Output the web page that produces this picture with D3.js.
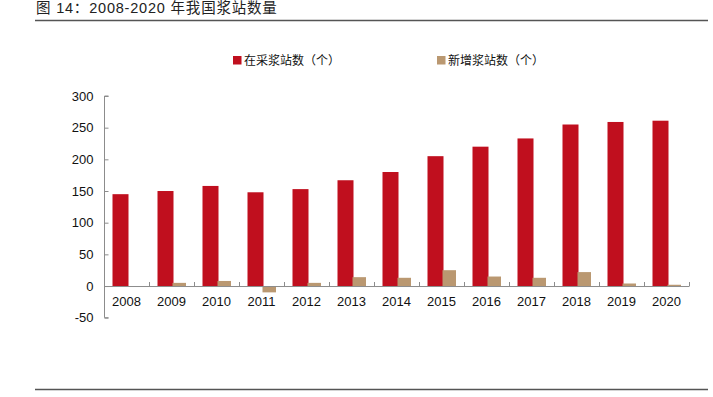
<!DOCTYPE html>
<html><head><meta charset="utf-8">
<script src="https://cdn.jsdelivr.net/npm/d3@7"></script>
<style>
html,body{margin:0;padding:0;background:#fff;}
svg{display:block;}
</style></head>
<body>
<script>
const years = ["2008","2009","2010","2011","2012","2013","2014","2015","2016","2017","2018","2019","2020"];
const stations = [145,150,158,148,153,167,180,205,220,233,255,259,261];
const newStations = [null,5,8,-10,5,14,13,25,15,13,22,4,2];
const yTicks = [-50,0,50,100,150,200,250,300];
const seriesNames = ["在采浆站数（个）","新增浆站数（个）"];
const titleText = "图 14：2008-2020 年我国浆站数量";

const W=713,H=397;
const svg=d3.select("body").append("svg").attr("width",W).attr("height",H);
const red="#C00F1E", tan="#BA9871", axisCol="#8c8c8c";
const cjk="'Liberation Sans','Noto Sans CJK SC',sans-serif";

svg.append("text").attr("x",36).attr("y",13).attr("font-family",cjk).attr("font-size",14.5).attr("letter-spacing",0.8).attr("fill","#222").text(titleText);
svg.append("line").attr("x1",35).attr("x2",708).attr("y1",20.5).attr("y2",20.5).attr("stroke","#555").attr("stroke-width",1.5);
svg.append("line").attr("x1",35).attr("x2",708).attr("y1",389.5).attr("y2",389.5).attr("stroke","#555").attr("stroke-width",1.5);

const x=d3.scaleBand().domain(years).range([104,689]).padding(0);
const y=d3.scaleLinear().domain([-50,300]).range([317.7,96]);

// bars
const g=svg.append("g");
g.selectAll("rect.s").data(years).join("rect").attr("class","s")
 .attr("x",d=>x(d)+8.5).attr("width",16)
 .attr("y",(d,i)=>y(stations[i])).attr("height",(d,i)=>y(0)-y(stations[i]))
 .attr("fill",red);
g.selectAll("rect.n").data(years.filter((d,i)=>newStations[i]!==null)).join("rect").attr("class","n")
 .attr("x",d=>x(d)+23.5).attr("width",13.5)
 .attr("y",d=>{const v=newStations[years.indexOf(d)];return y(Math.max(0,v));})
 .attr("height",d=>{const v=newStations[years.indexOf(d)];return Math.abs(y(v)-y(0));})
 .attr("fill",tan);

// y axis
const ya=svg.append("g").attr("transform","translate(104.5,0)")
 .call(d3.axisRight(y).tickValues(yTicks).tickSize(4).tickFormat(""));
ya.select(".domain").attr("stroke",axisCol).attr("d",`M4,${y(300)}H0V${y(-50)}H4`);
ya.selectAll(".tick line").attr("stroke",axisCol);
svg.append("g").selectAll("text").data(yTicks).join("text")
 .attr("x",93.5).attr("y",d=>y(d)+4.5).attr("text-anchor","end")
 .attr("font-family","'Liberation Sans',Arial,sans-serif").attr("font-size",13).attr("fill","#111").text(d=>d);

// x axis
const bounds=years.map(d=>x(d)).concat([x.range()[1]]);
svg.append("line").attr("x1",104).attr("x2",689).attr("y1",y(0)+0.5).attr("y2",y(0)+0.5).attr("stroke",axisCol);
svg.append("g").selectAll("line").data(bounds.slice(1)).join("line")
 .attr("x1",d=>Math.round(d)+0.5).attr("x2",d=>Math.round(d)+0.5)
 .attr("y1",y(0)-4).attr("y2",y(0)+0.5).attr("stroke",axisCol);
svg.append("g").selectAll("text").data(years).join("text")
 .attr("x",d=>x(d)+x.bandwidth()/2).attr("y",306).attr("text-anchor","middle")
 .attr("font-family","'Liberation Sans',Arial,sans-serif").attr("font-size",13).attr("fill","#111").text(d=>d);

// legend
const leg=[{c:red,x:233},{c:tan,x:437}];
leg.forEach((l,i)=>{
 svg.append("rect").attr("x",l.x).attr("y",56).attr("width",8.5).attr("height",8.5).attr("fill",l.c);
 svg.append("text").attr("x",l.x+11).attr("y",64.5).attr("font-family","'Noto Sans CJK SC',sans-serif").attr("font-size",12).attr("fill","#111").text(seriesNames[i]);
});
</script>
</body></html>
